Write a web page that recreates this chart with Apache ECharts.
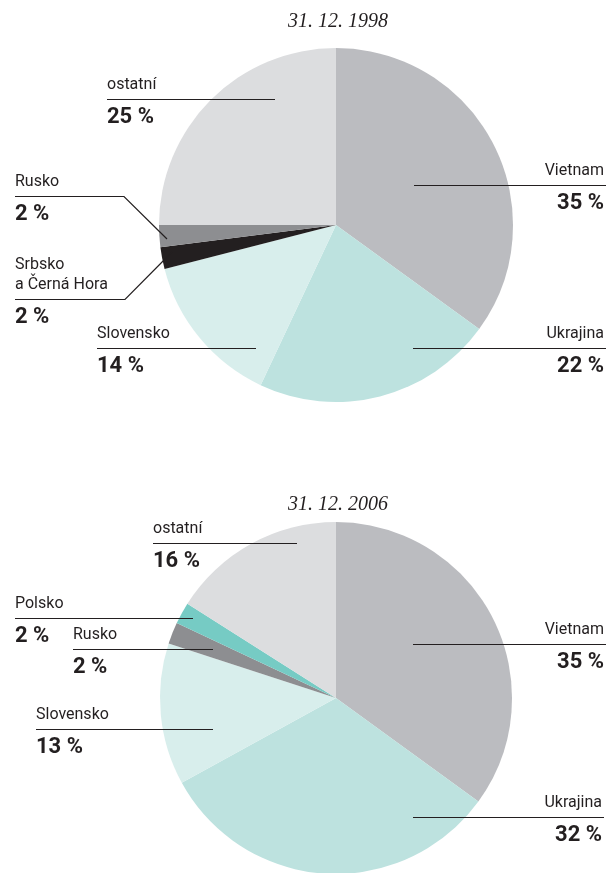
<!DOCTYPE html>
<html>
<head>
<meta charset="utf-8">
<script src="https://cdn.jsdelivr.net/npm/echarts@6/dist/echarts.min.js"></script>
<style>
html,body{margin:0;padding:0;background:#fff;}
#chart{width:607px;height:873px;}
</style>
</head>
<body>
<div id="chart"></div>
<script>
// ---- data ----
const titles = ['31. 12. 1998', '31. 12. 2006'];
const categories1998 = ['Vietnam', 'Ukrajina', 'Slovensko', 'Srbsko a Černá Hora', 'Rusko', 'ostatní'];
const values1998 = [35, 22, 14, 2, 2, 25];
const categories2006 = ['Vietnam', 'Ukrajina', 'Slovensko', 'Rusko', 'Polsko', 'ostatní'];
const values2006 = [35, 32, 13, 2, 2, 16];

// ---- styles ----
const colorMap = {
  'Vietnam': '#bbbcc0',
  'Ukrajina': '#bde2df',
  'Slovensko': '#d8eeec',
  'Srbsko a Černá Hora': '#231f20',
  'Rusko': '#8d8e91',
  'Polsko': '#76cbc4',
  'ostatní': '#dcdddf'
};
const textColor = '#231f20';
const sansFont = 'Roboto';

// label anchor layout (annotation placement): side, leader line y, line x range, optional elbow target
const labelLayout1998 = [
  { side: 'R', y: 185, x0: 414, x1: 606 },
  { side: 'R', y: 348, x0: 413, x1: 606 },
  { side: 'L', y: 348, x0: 97, x1: 256 },
  { side: 'L', y: 299, x0: 15, x1: 125, elbow: [172, 252] },
  { side: 'L', y: 196, x0: 15, x1: 124, elbow: [167, 239] },
  { side: 'L', y: 99, x0: 107, x1: 275 }
];
const labelLayout2006 = [
  { side: 'R', y: 644, x0: 413, x1: 606 },
  { side: 'R', y: 817, x0: 413, x1: 604 },
  { side: 'L', y: 729, x0: 36, x1: 213 },
  { side: 'L', y: 649, x0: 73, x1: 213 },
  { side: 'L', y: 618, x0: 15, x1: 193 },
  { side: 'L', y: 543, x0: 153, x1: 297 }
];

const NAME_LH = 28, FIRST_LH = 12, VAL_LH = 36;

function baseSeries(categories, values, center, radius) {
  return {
    type: 'pie',
    center: center,
    radius: radius,
    startAngle: 90,
    clockwise: true,
    avoidLabelOverlap: false,
    silent: true,
    animation: false,
    z: 2,
    itemStyle: { borderWidth: 0 },
    label: { show: false },
    labelLine: { show: false },
    data: categories.map((c, i) => ({ name: c, value: values[i], itemStyle: { color: colorMap[c] } }))
  };
}

function labelSeries(categories, values, layout, center, radius) {
  return {
    type: 'pie',
    center: center,
    radius: radius,
    startAngle: 90,
    clockwise: true,
    avoidLabelOverlap: false,
    silent: true,
    animation: false,
    z: 5,
    itemStyle: { borderWidth: 0, color: 'rgba(0,0,0,0)' },
    data: categories.map((c, i) => ({ name: c, value: values[i] })),
    label: {
      show: true,
      position: 'outside',
      color: textColor,
      formatter: function (p) {
        const s = layout[p.dataIndex].side === 'R' ? 'r' : 'l';
        const parts = p.name.split(' a ');
        if (parts.length > 1) {
          return '{f' + s + '|' + parts[0] + '}\n{n' + s + '|a ' + parts[1] + '}\n{v' + s + '|' + p.value + ' %}';
        }
        return '{n' + s + '|' + p.name + '}\n{v' + s + '|' + p.value + ' %}';
      },
      rich: {
        fl: { fontFamily: sansFont, fontSize: 16, color: textColor, lineHeight: FIRST_LH, align: 'left' },
        nl: { fontFamily: sansFont, fontSize: 16, color: textColor, lineHeight: NAME_LH, align: 'left' },
        vl: { fontFamily: sansFont, fontSize: 22, fontWeight: 'bold', color: textColor, lineHeight: VAL_LH, align: 'left' },
        fr: { fontFamily: sansFont, fontSize: 16, color: textColor, lineHeight: FIRST_LH, align: 'right' },
        nr: { fontFamily: sansFont, fontSize: 16, color: textColor, lineHeight: NAME_LH, align: 'right' },
        vr: { fontFamily: sansFont, fontSize: 22, fontWeight: 'bold', color: textColor, lineHeight: VAL_LH, align: 'right' }
      }
    },
    labelLine: {
      show: true,
      length: 10,
      length2: 10,
      smooth: false,
      lineStyle: { color: textColor, width: 1.2 }
    },
    labelLayout: function (params) {
      const L = layout[params.dataIndex];
      const twoLine = categories[params.dataIndex].indexOf(' a ') >= 0;
      const top = L.y - NAME_LH - (twoLine ? FIRST_LH : 0);
      const ly = L.y + 0.5;
      let pts;
      if (L.side === 'R') {
        pts = [[L.x0, ly], [(L.x0 + L.x1) / 2, ly], [L.x1, ly]];
        return { x: L.x1 - 2, y: top, align: 'right', verticalAlign: 'top', labelLinePoints: pts };
      }
      if (L.elbow) {
        pts = [L.elbow, [L.x1, ly], [L.x0, ly]];
      } else {
        pts = [[L.x1, ly], [(L.x0 + L.x1) / 2, ly], [L.x0, ly]];
      }
      return { x: L.x0, y: top, align: 'left', verticalAlign: 'top', labelLinePoints: pts };
    }
  };
}

const titleStyle = { fontFamily: 'Liberation Serif', fontStyle: 'italic', fontWeight: 'normal', fontSize: 20, color: textColor };

const chart = echarts.init(document.getElementById('chart'), null, { renderer: 'canvas' });
chart.setOption({
  backgroundColor: '#ffffff',
  animation: false,
  title: [
    { text: titles[0], left: 338, top: 12, textAlign: 'center', padding: 0, textStyle: titleStyle },
    { text: titles[1], left: 338, top: 495, textAlign: 'center', padding: 0, textStyle: titleStyle }
  ],
  series: [
    baseSeries(categories1998, values1998, [336, 225], 177),
    baseSeries(categories2006, values2006, [336, 698], 176),
    labelSeries(categories1998, values1998, labelLayout1998, [336, 225], 177),
    labelSeries(categories2006, values2006, labelLayout2006, [336, 698], 176)
  ]
});
</script>
</body>
</html>
